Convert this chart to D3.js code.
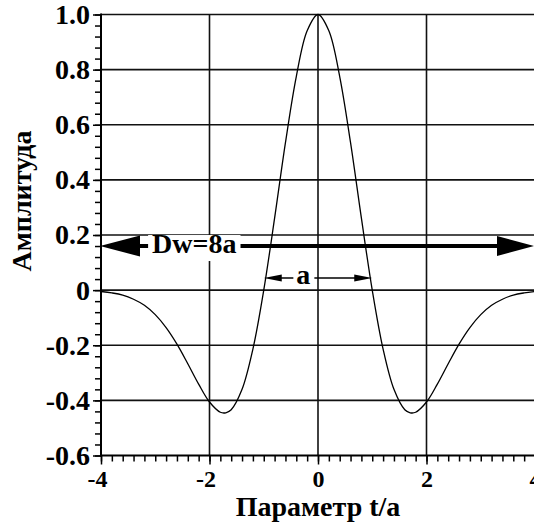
<!DOCTYPE html>
<html>
<head>
<meta charset="utf-8">
<script src="https://cdn.jsdelivr.net/npm/d3@7.9.0/dist/d3.min.js"></script>
<style>
  body { margin: 0; background: #fff; }
</style>
</head>
<body>
<div id="chart"></div>
<script>
// Wavelet amplitude, t/a from -4 to 4
const tVals = [-4.0, -3.8, -3.6, -3.4, -3.2, -3.0, -2.8, -2.6, -2.4, -2.2, -2.0, -1.8, -1.7, -1.6, -1.4, -1.2, -1.0, -0.8, -0.6, -0.4, -0.2,
  0.0, 0.2, 0.4, 0.6, 0.8, 1.0, 1.2, 1.4, 1.6, 1.7, 1.8, 2.0, 2.2, 2.4, 2.6, 2.8, 3.0, 3.2, 3.4, 3.6, 3.8, 4.0];
const amp = [-0.005, -0.010, -0.018, -0.033, -0.055, -0.089, -0.136, -0.196, -0.267, -0.341, -0.406, -0.443, -0.445, -0.434, -0.360, -0.214, 0.0, 0.261, 0.535, 0.775, 0.941,
  1.0, 0.941, 0.775, 0.535, 0.261, 0.0, -0.214, -0.360, -0.434, -0.445, -0.443, -0.406, -0.341, -0.267, -0.196, -0.136, -0.089, -0.055, -0.033, -0.018, -0.010, -0.005];

const xTicks = [-4, -2, 0, 2, 4];
const yTicks = [-0.6, -0.4, -0.2, 0, 0.2, 0.4, 0.6, 0.8, 1.0];
const xGrid = [-2, 0, 2];
const yGrid = [-0.4, -0.2, 0, 0.2, 0.4, 0.6, 0.8, 1.0];

// annotations (data units)
const dwLevel = 0.16, dwLabel = "Dw=8a", dwLabelX = -2.28;
const aLevel = 0.044, aFrom = -1, aTo = 1, aLabel = "a", aLabelX = -0.27;

const FONT = "'Liberation Serif', 'Times New Roman', serif";
const W = 534, H = 523;
const x = d3.scaleLinear().domain([-4, 4]).range([101, 535]);
const y = d3.scaleLinear().domain([-0.6, 1.0]).range([455.5, 14.5]);

const svg = d3.select("#chart").append("svg").attr("width", W).attr("height", H);

function serif(sel, size) {
  return sel.attr("font-family", FONT).attr("font-weight", "bold")
    .attr("font-size", size).attr("fill", "#000")
    .style("font-family", FONT).style("font-weight", "bold").style("font-size", size + "px");
}

// grid
svg.append("g").selectAll("line").data(yGrid).join("line")
  .attr("x1", x(-4)).attr("x2", W)
  .attr("y1", d => y(d)).attr("y2", d => y(d))
  .attr("stroke", "#111").attr("stroke-width", 1.6);
svg.append("g").selectAll("line").data(xGrid).join("line")
  .attr("x1", d => x(d)).attr("x2", d => x(d))
  .attr("y1", y(1.0)).attr("y2", y(-0.6))
  .attr("stroke", "#111").attr("stroke-width", 1.6);

// axes
const yAxis = svg.append("g").attr("transform", `translate(${x(-4)},0)`);
yAxis.call(d3.axisLeft(y).tickValues(d3.range(-0.6, 1.001, 0.04)).tickSize(6).tickFormat(""));
yAxis.append("g").call(d3.axisLeft(y).tickValues(yTicks).tickSize(8)
  .tickFormat(d => d === 0 ? "0" : d3.format(".1f")(d).replace("\u2212", "-")));
yAxis.selectAll(".domain").remove();
yAxis.selectAll("line").attr("stroke", "#000").attr("stroke-width", 1.5);
serif(yAxis.selectAll("text").attr("x", -11), 28);

const xAxis = svg.append("g").attr("transform", `translate(0,${y(-0.6)})`);
xAxis.call(d3.axisBottom(x).tickValues(d3.range(-4, 4.001, 0.2)).tickSize(6).tickFormat(""));
xAxis.append("g").call(d3.axisBottom(x).tickValues(xTicks).tickSize(9).tickFormat(d => String(d)));
xAxis.selectAll(".domain").remove();
xAxis.selectAll("line").attr("stroke", "#000").attr("stroke-width", 1.5);
// digits centred on the tick, the hyphen hangs to the left
serif(xAxis.selectAll("text").attr("y", 14).attr("x", d => d < 0 ? -4 : 0), 24);

svg.append("line").attr("x1", x(-4)).attr("x2", x(-4)).attr("y1", y(1.0) - 1).attr("y2", y(-0.6) + 1)
  .attr("stroke", "#000").attr("stroke-width", 2);
svg.append("line").attr("x1", x(-4) - 1).attr("x2", W).attr("y1", y(-0.6)).attr("y2", y(-0.6))
  .attr("stroke", "#000").attr("stroke-width", 2);

// curve
const pts = tVals.map((t, i) => [t, amp[i]]);
svg.append("path").datum(pts)
  .attr("fill", "none").attr("stroke", "#000").attr("stroke-width", 1.3)
  .attr("d", d3.line().x(d => x(d[0])).y(d => y(d[1])).curve(d3.curveCatmullRom));

// Dw arrow
const dy = y(dwLevel);
svg.append("line").attr("x1", x(-4) + 30).attr("x2", x(4) - 30).attr("y1", dy).attr("y2", dy)
  .attr("stroke", "#000").attr("stroke-width", 4);
svg.append("path").attr("d", `M${x(-4) - 1},${dy} L${x(-4) + 39},${dy - 10.5} L${x(-4) + 39},${dy + 10.5} Z`).attr("fill", "#000");
svg.append("path").attr("d", `M${x(4) - 1},${dy} L${x(4) - 38},${dy - 10} L${x(4) - 38},${dy + 10} Z`).attr("fill", "#000");
const dwG = svg.append("g");
const dwT = serif(dwG.append("text"), 28).attr("x", x(dwLabelX)).attr("y", dy + 7)
  .attr("text-anchor", "middle").text(dwLabel);
const bb = dwT.node().getBBox();
dwG.insert("rect", "text").attr("x", bb.x - 4).attr("y", dy - 11).attr("width", bb.width + 8).attr("height", 26).attr("fill", "#fff");

// a arrow
const ay = y(aLevel);
const aT = serif(svg.append("text"), 28).attr("x", x(aLabelX)).attr("y", ay + 6)
  .attr("text-anchor", "middle").text(aLabel);
const ab = aT.node().getBBox();
svg.append("line").attr("x1", x(aFrom) + 10).attr("x2", ab.x - 3).attr("y1", ay).attr("y2", ay)
  .attr("stroke", "#000").attr("stroke-width", 1.5);
svg.append("line").attr("x1", ab.x + ab.width + 4).attr("x2", x(aTo) - 10).attr("y1", ay).attr("y2", ay)
  .attr("stroke", "#000").attr("stroke-width", 1.5);
svg.append("path").attr("d", `M${x(aFrom)},${ay} L${x(aFrom) + 18},${ay - 3.5} L${x(aFrom) + 18},${ay + 3.5} Z`).attr("fill", "#000");
svg.append("path").attr("d", `M${x(aTo)},${ay} L${x(aTo) - 18},${ay - 3.5} L${x(aTo) - 18},${ay + 3.5} Z`).attr("fill", "#000");

// titles
serif(svg.append("text"), 28).attr("x", x(0)).attr("y", 516).attr("text-anchor", "middle")
  .text("Параметр t/a");
serif(svg.append("text"), 28).attr("transform", `translate(31,201) rotate(-90)`).attr("text-anchor", "middle")
  .text("Амплитуда");
</script>
</body>
</html>
